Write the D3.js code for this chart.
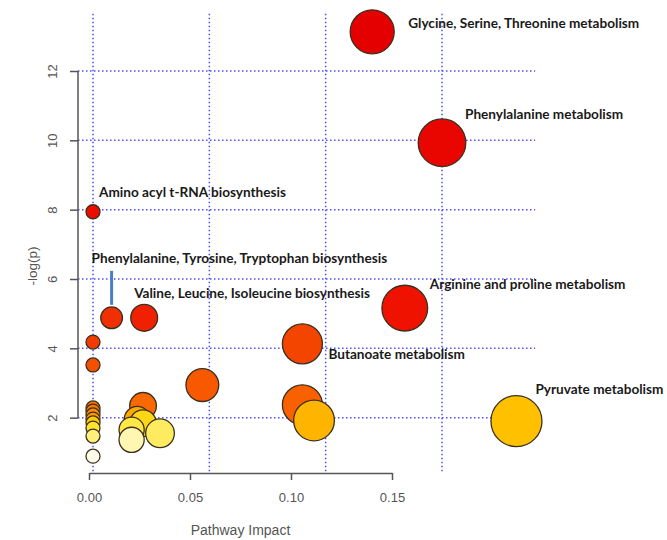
<!DOCTYPE html>
<html>
<head>
<meta charset="utf-8">
<script src="https://cdn.jsdelivr.net/npm/d3@7"></script>
<style>
  body { margin: 0; background: #fff; }
  .axis text { font-family: "Liberation Sans", Arial, sans-serif; font-size: 13px; fill: #555; }
  .axis line, .axis path { stroke: #555; stroke-width: 1.5; }
  .lbl { font-family: Lato, "Liberation Sans", sans-serif; font-weight: bold; font-size: 13.6px; fill: #1a1a1a; }
</style>
</head>
<body>
<div id="vis"></div>
<script>
// pathway results, ordered by -log(p), highest first
var pathways = [
  "Glycine, Serine, Threonine metabolism", "Phenylalanine metabolism", "Amino acyl t-RNA biosynthesis",
  "Arginine and proline metabolism", "Valine, Leucine, Isoleucine biosynthesis",
  "Phenylalanine, Tyrosine, Tryptophan biosynthesis", "", "Butanoate metabolism", "", "", "", "",
  "", "", "", "", "", "", "Pyruvate metabolism", "", "", "", "", "", "", "", ""
];
var impact = [0.120, 0.150, 0.000, 0.134, 0.022, 0.008, 0.000, 0.090, 0.000, 0.047, 0.090, 0.0215,
  0.000, 0.000, 0.000, 0.000, 0.019, 0.095, 0.182, 0.000, 0.0215, 0.000, 0.0166, 0.0288, 0.000, 0.0166, 0.000];
var negLogP = [13.13, 9.93, 7.94, 5.16, 4.88, 4.88, 4.18, 4.13, 3.52, 2.94, 2.37, 2.34,
  2.28, 2.19, 2.08, 1.96, 1.95, 1.92, 1.90, 1.85, 1.84, 1.70, 1.65, 1.55, 1.47, 1.36, 0.89];

var xTicks = [0, 0.05, 0.10, 0.15];
var yTicks = [2, 4, 6, 8, 10, 12];

var width = 667, height = 540;

var svg = d3.select('#vis')
  .append('svg')
  .attr('width', width)
  .attr('height', height);

// bubbles & grid sit on one scale, the printed axis on a slightly shorter one (as in the figure)
var x_scale = d3.scaleLinear().domain([0, 0.15]).range([93, 442]);
var x_axis_scale = d3.scaleLinear().domain([0, 0.15]).range([89, 392]);
var y_scale = d3.scaleLinear().domain([0, 12]).range([487, 71]);
var r_scale = d3.scaleSqrt().domain([0, 0.182]).range([7, 25.5]);

// heat colours by rank
var colour_scale = d3.scaleLinear()
  .domain([0, 3, 5, 8, 10, 13, 16, 19, 21, 24, 26])
  .range(['#e50000', '#f01200', '#f03000', '#f55000', '#f86000', '#ff7a00',
          '#ffa800', '#ffcc00', '#ffe22a', '#fff07a', '#fffbe8']);

var data = pathways.map(function(name, i) {
  return { name: name, impact: impact[i], p: negLogP[i], rank: i };
});

// grid
var grid = svg.append('g')
  .attr('stroke', '#4d4dff')
  .attr('stroke-width', 1.5)
  .attr('stroke-dasharray', '1.5,2.5');

grid.selectAll('.hgrid')
  .data(yTicks)
  .enter()
  .append('line')
  .attr('x1', 78)
  .attr('x2', x_scale(0.19))
  .attr('y1', function(d) { return y_scale(d); })
  .attr('y2', function(d) { return y_scale(d); });

grid.selectAll('.vgrid')
  .data(xTicks)
  .enter()
  .append('line')
  .attr('x1', function(d) { return x_scale(d); })
  .attr('x2', function(d) { return x_scale(d); })
  .attr('y1', y_scale(13.65))
  .attr('y2', 473);

// y axis
var y_axis = d3.axisLeft(y_scale).tickValues(yTicks).tickSize(8).tickSizeOuter(0);
var gy = svg.append('g')
  .attr('class', 'y axis')
  .attr('transform', 'translate(78,0)')
  .call(y_axis);
gy.select('.domain').remove();
gy.append('line')
  .attr('y1', y_scale(2))
  .attr('y2', y_scale(12));
gy.selectAll('.tick text')
  .attr('transform', 'rotate(-90)')
  .attr('text-anchor', 'middle')
  .attr('x', 0)
  .attr('y', -21)
  .attr('dy', 0);

// x axis
var x_axis = d3.axisBottom(x_axis_scale)
  .tickValues(xTicks)
  .tickFormat(d3.format('.2f'))
  .tickSize(7)
  .tickSizeOuter(0)
  .tickPadding(13);
svg.append('g')
  .attr('class', 'x axis')
  .attr('transform', 'translate(0,473)')
  .call(x_axis);

// axis titles
svg.append('text')
  .attr('transform', 'translate(37,266) rotate(-90)')
  .attr('text-anchor', 'middle')
  .style('font-family', '"Liberation Sans", Arial, sans-serif')
  .style('font-size', '13.5px')
  .style('fill', '#555')
  .text('-log(p)');

svg.append('text')
  .attr('x', (x_axis_scale(0) + x_axis_scale(0.15)) / 2)
  .attr('y', 535)
  .attr('text-anchor', 'middle')
  .style('font-family', '"Liberation Sans", Arial, sans-serif')
  .style('font-size', '14px')
  .style('fill', '#555')
  .text('Pathway Impact');

// bubbles
svg.selectAll('.bubble')
  .data(data)
  .enter()
  .append('circle')
  .attr('class', 'bubble')
  .attr('cx', function(d) { return x_scale(d.impact); })
  .attr('cy', function(d) { return y_scale(d.p); })
  .attr('r', function(d) { return r_scale(d.impact); })
  .attr('fill', function(d) { return colour_scale(d.rank); })
  .attr('stroke', '#3a3020')
  .attr('stroke-width', 1.3);

// label placement relative to each bubble
var labelOffset = {
  "Glycine, Serine, Threonine metabolism": [36, -4],
  "Phenylalanine metabolism": [23, -23.5],
  "Amino acyl t-RNA biosynthesis": [6, -15],
  "Arginine and proline metabolism": [25, -19.5],
  "Valine, Leucine, Isoleucine biosynthesis": [-10, -20],
  "Phenylalanine, Tyrosine, Tryptophan biosynthesis": [-20, -55],
  "Butanoate metabolism": [26, 15.5],
  "Pyruvate metabolism": [19, -27]
};

var labelled = data.filter(function(d) { return d.name !== ''; });

svg.selectAll('.lbl')
  .data(labelled)
  .enter()
  .append('text')
  .attr('class', 'lbl')
  .attr('x', function(d) { return x_scale(d.impact) + labelOffset[d.name][0]; })
  .attr('y', function(d) { return y_scale(d.p) + labelOffset[d.name][1]; })
  .text(function(d) { return d.name; });

// pointer for the Phe/Tyr/Trp bubble
var ptt = data[5];
svg.append('line')
  .attr('x1', x_scale(ptt.impact))
  .attr('x2', x_scale(ptt.impact))
  .attr('y1', y_scale(ptt.p) - 47)
  .attr('y2', y_scale(ptt.p) - 13)
  .attr('stroke', '#4a7cc4')
  .attr('stroke-width', 3);
</script>
</body>
</html>
